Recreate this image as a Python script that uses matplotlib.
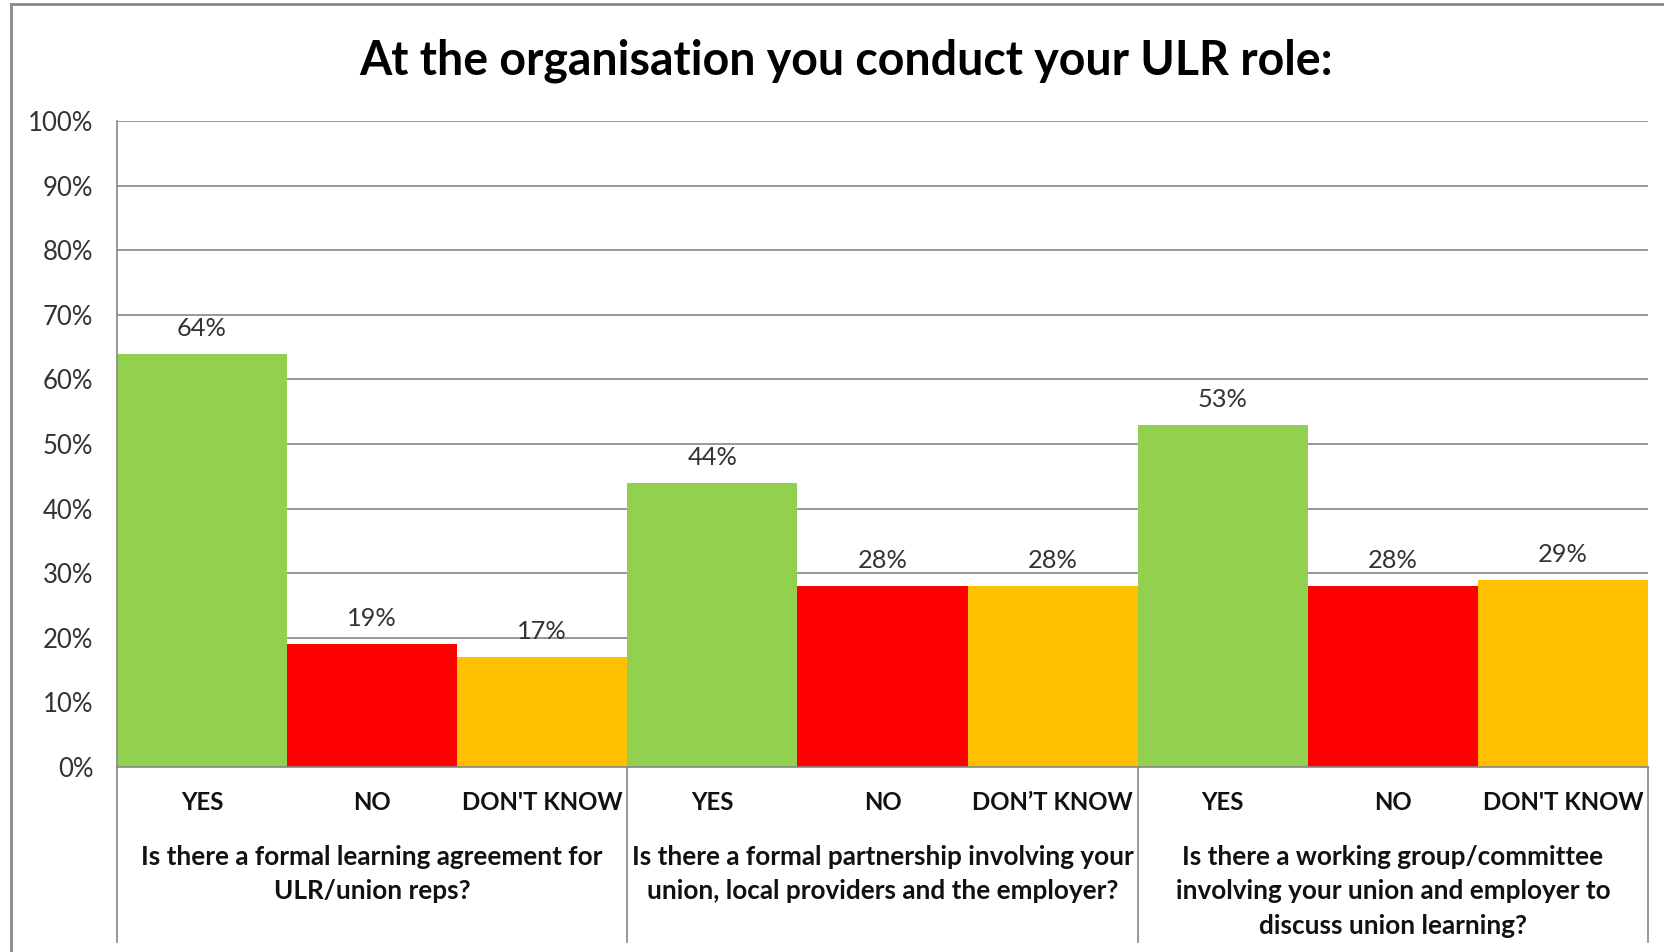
import numpy as np
import matplotlib.pyplot as plt
from matplotlib.lines import Line2D
from matplotlib.transforms import blended_transform_factory

plt.rcParams['font.family'] = ['Lato', 'DejaVu Sans']

questions = [
    "Is there a formal learning agreement for\nULR/union reps?",
    "Is there a formal partnership involving your\nunion, local providers and the employer?",
    "Is there a working group/committee\ninvolving your union and employer to\ndiscuss union learning?",
]
answers = [
    ["YES", "NO", "DON'T KNOW"],
    ["YES", "NO", "DON\u2019T KNOW"],
    ["YES", "NO", "DON'T KNOW"],
]
yes_pct = [64, 44, 53]
no_pct = [19, 28, 28]
dontknow_pct = [17, 28, 29]
answer_colors = ["#92D050", "#FF0000", "#FFC000"]
y_ticks = list(range(0, 101, 10))

W, H = 1664, 952
fig = plt.figure(figsize=(W / 100, H / 100), dpi=100)
ax = fig.add_axes([117 / W, 1 - 767 / H, (1648 - 117) / W, (767 - 121) / H])

# one bar per answer, groups sit side by side with no gaps
vals = np.array([yes_pct, no_pct, dontknow_pct]).T  # shape (question, answer)
xs = np.arange(vals.size) + 0.5
cols = [answer_colors[j] for i in range(len(questions)) for j in range(3)]
ax.bar(xs, vals.ravel(), width=1.0, color=cols, linewidth=0, zorder=2)

for x, v in zip(xs, vals.ravel()):
    ax.annotate(f"{v}%", (x, v), xytext=(0, 13), textcoords="offset points",
                ha="center", va="baseline", fontsize=18.3, color="#333333")

ax.set_xlim(0, vals.size)
ax.set_ylim(0, 100)
ax.set_yticks(y_ticks)
ax.set_yticklabels([f"{t}%" for t in y_ticks], fontsize=18.5, color="#333333")
ax.tick_params(axis="y", length=0, pad=17)
ax.set_xticks([])
ax.yaxis.grid(True, color="#868686", linewidth=1.2, zorder=0)
ax.set_axisbelow(True)
for s in ["top", "right"]:
    ax.spines[s].set_visible(False)
ax.spines["left"].set_color("#868686")
ax.spines["bottom"].set_color("#868686")
ax.spines["left"].set_linewidth(1.2)
ax.spines["bottom"].set_linewidth(1.2)

# category labels under the axis
tr = blended_transform_factory(ax.transData, fig.transFigure)
for i, q in enumerate(questions):
    for j, a in enumerate(answers[i]):
        ax.text(i * 3 + j + 0.5, 1 - 803 / H, a, transform=tr, ha="center",
                va="center", fontsize=17.3, fontweight="bold", color="#111111")
    ax.text(i * 3 + 1.5, 1 - 845 / H, q, transform=tr, ha="center", va="top",
            fontsize=18.8, fontweight="bold", color="#111111", linespacing=1.52)

for gx in range(0, vals.size + 1, 3):
    fig.add_artist(Line2D([gx, gx], [1 - 767 / H, 1 - 942 / H], transform=tr,
                          color="#868686", linewidth=1.2))

fig.text(846 / W, 1 - 61 / H, "At the organisation you conduct your ULR role:",
         ha="center", va="center", fontsize=33.5, fontweight="bold", color="#000000")

# chart frame (top and left edges)
fig.add_artist(Line2D([11 / W, 11 / W], [0, 1 - 4 / H], transform=fig.transFigure,
                      color="#888888", linewidth=2))
fig.add_artist(Line2D([11 / W, 1], [1 - 4 / H, 1 - 4 / H], transform=fig.transFigure,
                      color="#888888", linewidth=2))

fig.savefig("out.png", dpi=100)
